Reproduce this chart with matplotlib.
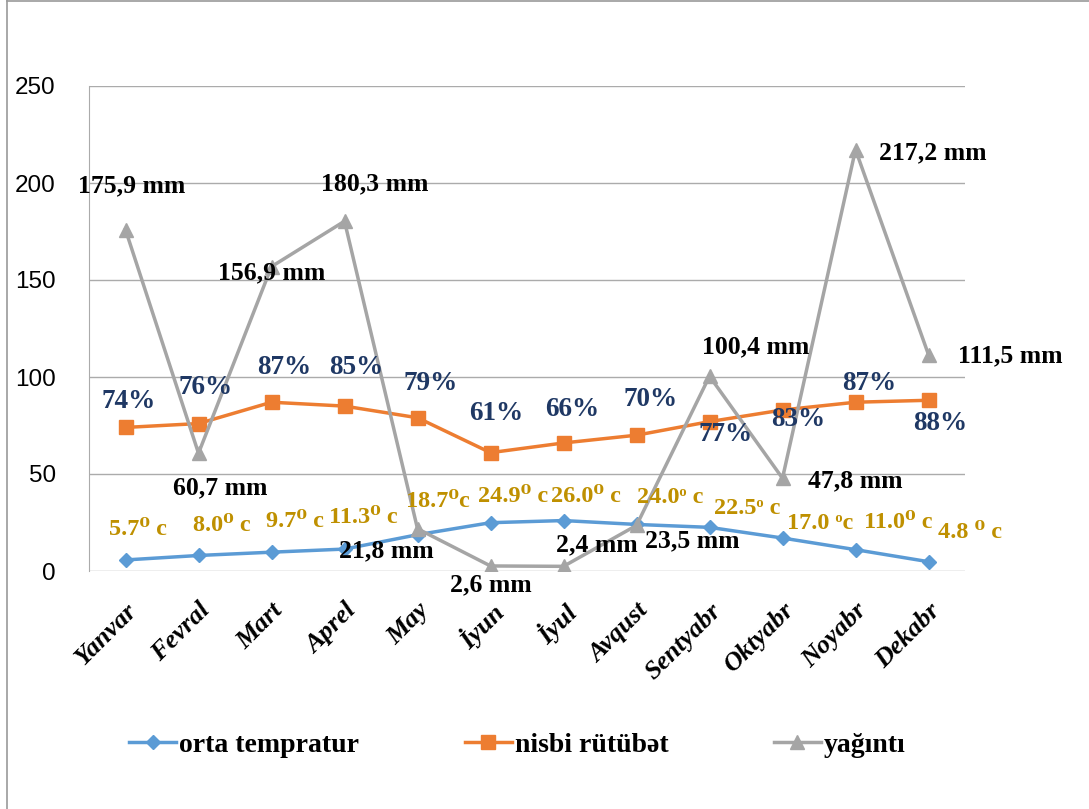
import matplotlib
matplotlib.use("Agg")
import matplotlib.pyplot as plt
from matplotlib.lines import Line2D

months = ["Yanvar", "Fevral", "Mart", "Aprel", "May", "İyun", "İyul",
          "Avqust", "Sentyabr", "Oktyabr", "Noyabr", "Dekabr"]
temperature = [5.7, 8.0, 9.7, 11.3, 18.7, 24.9, 26.0, 24.0, 22.5, 17.0, 11.0, 4.8]
humidity = [74, 76, 87, 85, 79, 61, 66, 70, 77, 83, 87, 88]
precipitation = [175.9, 60.7, 156.9, 180.3, 21.8, 2.6, 2.4, 23.5, 100.4, 47.8, 217.2, 111.5]

temp_labels = ["5.7⁰ c", "8.0⁰ c", "9.7⁰ c", "11.3⁰ c", "18.7⁰c", "24.9⁰ c",
               "26.0⁰ c", "24.0ᵒ c", "22.5ᵒ c", "17.0 ᵒc", "11.0⁰ c", "4.8 ⁰ c"]
hum_labels = [f"{v}%" for v in humidity]
prec_labels = ["175,9 mm", "60,7 mm", "156,9 mm", "180,3 mm", "21,8 mm", "2,6 mm",
               "2,4 mm", "23,5 mm", "100,4 mm", "47,8 mm", "217,2 mm", "111,5 mm"]

# label offsets in pixels (dx, dy)
hum_off = [(3, 26), (7, 36), (13, 35), (12, 39), (13, 34), (6, 39), (9, 33),
           (14, 36), (16, -13), (16, -10), (14, 19), (12, -23)]
temp_off = [(12, 30), (23, 30), (23, 31), (19, 32), (20, 33), (23, 26), (22, 24),
            (34, 27), (38, 19), (38, 15), (43, 27), (42, 29)]
prec_off = [(6, 44), (22, -35), (0, -6), (30, 37), (-31, -22), (0, -19), (33, 22),
            (56, -15), (46, 29), (73, -3), (77, -3), (82, -1)]

BLUE = "#5B9BD5"
ORANGE = "#ED7D31"
GRAY = "#A5A5A5"
NAVY = "#1F3864"
GOLD = "#BF9000"
SERIF = ["Liberation Serif", "DejaVu Serif"]

fig = plt.figure(figsize=(10.89, 8.09), dpi=100)
ax = fig.add_axes([89 / 1089, 1 - 571 / 809, 876 / 1089, 485 / 809])

x = list(range(len(months)))
ax.plot(x, temperature, color=BLUE, lw=2.5, marker="D", ms=7, label="orta tempratur", zorder=3)
ax.plot(x, humidity, color=ORANGE, lw=2.5, marker="s", ms=10, label="nisbi rütübət", zorder=3)
ax.plot(x, precipitation, color=GRAY, lw=2.5, marker="^", ms=10, label="yağıntı", zorder=3)

def put_labels(vals, texts, offs, color, size):
    for i, (v, t, (dx, dy)) in enumerate(zip(vals, texts, offs)):
        ax.annotate(t, xy=(i, v), xytext=(dx, dy), textcoords="offset pixels",
                    ha="center", va="center", fontsize=size, fontweight="bold",
                    family=SERIF, color=color, zorder=4, annotation_clip=False)

put_labels(humidity, hum_labels, hum_off, NAVY, 19.5)
put_labels(temperature, temp_labels, temp_off, GOLD, 17.5)
put_labels(precipitation, prec_labels, prec_off, "black", 18.5)

ax.set_xlim(-0.5, 11.5)
ax.set_ylim(0, 250)
ax.set_yticks([0, 50, 100, 150, 200, 250])
ax.yaxis.grid(True, color="#ABABAB", lw=1)
ax.set_axisbelow(True)
for s in ["top", "right", "bottom"]:
    ax.spines[s].set_visible(False)
ax.spines["left"].set_color("#ABABAB")
ax.tick_params(axis="both", length=0)
ax.tick_params(axis="y", pad=24, labelsize=17.5)
for lbl in ax.get_yticklabels():
    lbl.set_family(["Liberation Sans", "DejaVu Sans"])

ax.set_xticks(x)
ax.set_xticklabels(months, rotation=45, ha="right", rotation_mode="anchor",
                   fontsize=19, fontweight="bold", fontstyle="italic", family=SERIF)
ax.tick_params(axis="x", pad=20)

fig.legend(loc="center", bbox_to_anchor=(0.475, 1 - 745 / 809), ncol=3, frameon=False,
           prop={"family": SERIF, "weight": "bold", "size": 20},
           handlelength=1.7, handletextpad=0.1, columnspacing=3.8)

fig.add_artist(Line2D([7 / 1089, 7 / 1089], [0, 1], color="#9A9A9A", lw=1.2))
fig.add_artist(Line2D([7 / 1089, 1], [0.999, 0.999], color="#9A9A9A", lw=1.2))

fig.savefig("out.png", dpi=100)
